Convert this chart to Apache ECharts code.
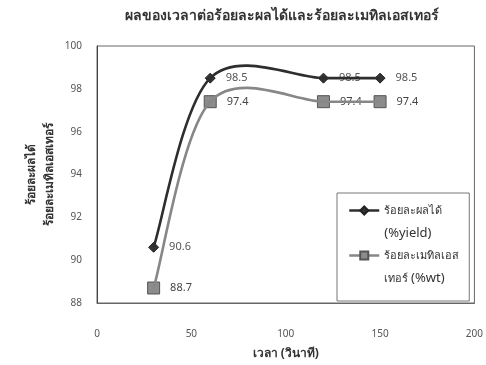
<!DOCTYPE html>
<html>
<head>
<meta charset="utf-8">
<script src="https://cdn.jsdelivr.net/npm/echarts@6/dist/echarts.min.js"></script>
<style>
  html, body { margin: 0; padding: 0; background: #fff; }
  #chart { width: 486px; height: 365px; }
</style>
</head>
<body>
<div id="chart"></div>
<script>
// Reaction time (seconds) and the two measured percentages
const timeSec = [30, 60, 120, 150];
const yieldPct = [90.6, 98.5, 98.5, 98.5];
const esterPct = [88.7, 97.4, 97.4, 97.4];

const titleText = 'ผลของเวลาต่อร้อยละผลได้และร้อยละเมทิลเอสเทอร์';
const xName = 'เวลา (วินาที)';
const yNameLines = ['ร้อยละผลได้', 'ร้อยละเมทิลเอสเทอร์'];
const seriesNames = ['ร้อยละผลได้', 'ร้อยละเมทิลเอสเทอร์'];
// legend entries, wrapped onto two lines ({t|..} Thai text, {e|..} Latin text)
const legendText = [
  '{t|ร้อยละผลได้}\n{e|(%yield)}',
  '{t|ร้อยละเมทิลเอส}\n{t|เทอร์ }{e|(%wt)}'
];

const FONT = '"Noto Sans", "DejaVu Sans", sans-serif';
const YIELD_COLOR = '#2e2e2e';
const ESTER_COLOR = '#878787';

const chart = echarts.init(document.getElementById('chart'), null, { renderer: 'canvas' });

function pairs(xs, ys) {
  return xs.map((x, i) => [x, ys[i]]);
}

// Smoothed curve (cardinal spline) drawn segment by segment through the data points.
function curveSeries(xs, ys, color, z) {
  return {
    type: 'custom',
    z: z,
    silent: true,
    data: pairs(xs, ys),
    renderItem: function (params, api) {
      const i = params.dataIndex;
      const n = xs.length;
      if (i >= n - 1) return null;
      const pt = k => {
        const j = Math.max(0, Math.min(n - 1, k));
        return api.coord([xs[j], ys[j]]);
      };
      const p0 = pt(i - 1), p1 = pt(i), p2 = pt(i + 1), p3 = pt(i + 2);
      const t = 1 / 6;
      return {
        type: 'bezierCurve',
        shape: {
          x1: p1[0], y1: p1[1], x2: p2[0], y2: p2[1],
          cpx1: p1[0] + (p2[0] - p0[0]) * t, cpy1: p1[1] + (p2[1] - p0[1]) * t,
          cpx2: p2[0] - (p3[0] - p1[0]) * t, cpy2: p2[1] - (p3[1] - p1[1]) * t
        },
        style: { stroke: color, lineWidth: 2.6, fill: null }
      };
    }
  };
}

chart.setOption({
  backgroundColor: '#fff',
  animation: false,
  title: {
    text: titleText,
    left: 277,
    textAlign: 'center',
    top: 4,
    textStyle: { fontFamily: FONT, fontSize: 14, fontWeight: 'bold', color: '#333' }
  },
  grid: {
    left: 97, right: 8, top: 46, bottom: 60,
    show: true, borderColor: '#666', borderWidth: 1
  },
  legend: {
    orient: 'vertical',
    left: 337, top: 193,
    padding: [-17, 10, 11, 11],
    itemWidth: 30, itemHeight: 10,
    itemGap: -24,
    borderColor: '#777', borderWidth: 1,
    backgroundColor: '#fff',
    // a blank first line keeps the icon level with the first text line
    formatter: function (name) {
      return '{t|\u200b}\n' + legendText[seriesNames.indexOf(name)];
    },
    textStyle: {
      fontFamily: FONT, fontSize: 11, color: '#333', lineHeight: 23,
      rich: {
        t: { fontFamily: FONT, fontSize: 11, color: '#333', lineHeight: 23 },
        e: { fontFamily: FONT, fontSize: 13, color: '#333', lineHeight: 23 }
      }
    },
    data: [
      { name: seriesNames[0], lineStyle: { color: YIELD_COLOR, width: 2.5, opacity: 1 } },
      { name: seriesNames[1], lineStyle: { color: ESTER_COLOR, width: 2.5, opacity: 1 } }
    ]
  },
  xAxis: {
    type: 'value',
    min: 0, max: 200, interval: 50,
    name: xName,
    nameLocation: 'middle',
    nameGap: 45,
    nameTextStyle: { fontFamily: FONT, fontSize: 12, fontWeight: 'bold', color: '#333' },
    axisLine: { show: true, onZero: false, lineStyle: { color: '#666' } },
    axisTick: { show: false },
    splitLine: { show: false },
    axisLabel: { margin: 26, fontFamily: FONT, fontSize: 10, color: '#555' }
  },
  yAxis: {
    type: 'value',
    min: 88, max: 100, interval: 2,
    name: yNameLines.join('\n'),
    nameLocation: 'middle',
    nameGap: 38,
    nameMoveOverlap: false,
    nameRotate: 90,
    nameTextStyle: { fontFamily: FONT, fontSize: 12, fontWeight: 'bold', color: '#333', lineHeight: 18 },
    axisLine: { show: true, lineStyle: { color: '#444' } },
    axisTick: { show: false },
    splitLine: { show: false },
    axisLabel: { margin: 15, fontFamily: FONT, fontSize: 10, color: '#555' }
  },
  series: [
    {
      name: seriesNames[0],
      type: 'line',
      data: pairs(timeSec, yieldPct),
      symbol: 'diamond',
      symbolSize: 10,
      z: 2,
      lineStyle: { color: YIELD_COLOR, opacity: 0 },
      itemStyle: { color: '#333', borderColor: '#222', borderWidth: 1 },
      label: {
        show: true, position: 'right', distance: 10,
        fontFamily: FONT, fontSize: 11, color: '#555',
        formatter: p => p.value[1].toFixed(1)
      }
    },
    {
      name: seriesNames[1],
      type: 'line',
      data: pairs(timeSec, esterPct),
      symbol: 'rect',
      symbolSize: 12,
      z: 2,
      lineStyle: { color: ESTER_COLOR, opacity: 0 },
      itemStyle: { color: '#8c8c8c', borderColor: '#555', borderWidth: 1 },
      label: {
        show: true, position: 'right', distance: 10,
        fontFamily: FONT, fontSize: 11, color: '#444',
        formatter: p => p.value[1].toFixed(1)
      }
    },
    curveSeries(timeSec, esterPct, ESTER_COLOR, 3),
    curveSeries(timeSec, yieldPct, YIELD_COLOR, 4)
  ]
});
</script>
</body>
</html>
